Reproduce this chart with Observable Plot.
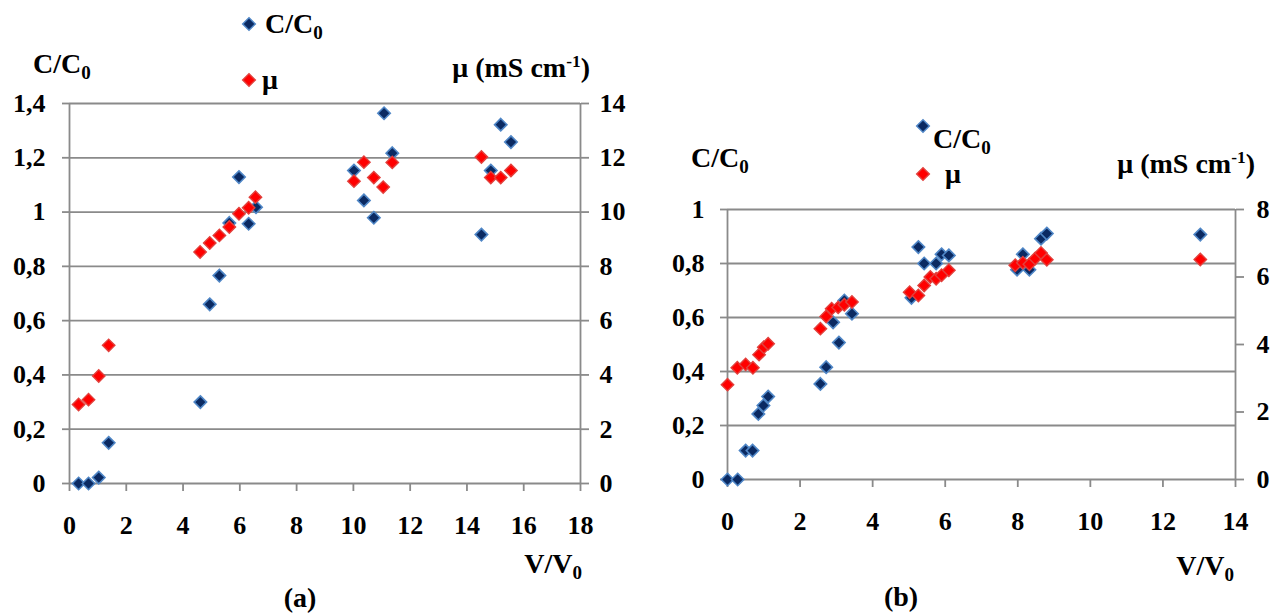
<!DOCTYPE html>
<html><head><meta charset="utf-8">
<script src="https://cdn.jsdelivr.net/npm/d3@7"></script>
<script src="https://cdn.jsdelivr.net/npm/@observablehq/plot@0.6"></script>
<style>
body{margin:0;background:#fff;}
#wrap{position:relative;width:1279px;height:615px;font-family:"Liberation Serif","Times New Roman",serif;font-weight:bold;color:#000;overflow:hidden;}
#wrap svg.pl{position:absolute;top:0;}
.lbl{position:absolute;font-size:28px;white-space:nowrap;line-height:1;z-index:2;}
.lbl sub{font-size:0.68em;vertical-align:-0.3em;line-height:0;}
.lbl sup{font-size:0.62em;vertical-align:0.55em;line-height:0;}
.leg{position:absolute;z-index:2;}
</style>
</head><body>
<div id="wrap"></div>
<script>
// ---------- Panel (a) data ----------
const aVc = [0.32,0.67,1.03,1.38,4.61,4.94,5.28,5.63,5.97,6.31,6.57,10.02,10.37,10.72,11.08,11.37,14.51,14.84,15.19,15.55];
const aC  = [0,0,0.022,0.15,0.30,0.66,0.766,0.96,1.129,0.957,1.018,1.153,1.043,0.979,1.364,1.217,0.917,1.153,1.322,1.258];
const aVm = [0.32,0.67,1.03,1.38,4.60,4.94,5.28,5.63,5.97,6.31,6.55,10.02,10.37,10.72,11.05,11.37,14.51,14.84,15.19,15.55];
const aMu = [2.91,3.09,3.96,5.09,8.53,8.86,9.14,9.45,9.94,10.16,10.55,11.14,11.84,11.27,10.92,11.83,12.03,11.27,11.27,11.53];
const aXTicks = [0,2,4,6,8,10,12,14,16,18];
const aCTicks = [0,0.2,0.4,0.6,0.8,1,1.2,1.4];
const aMuTicks = [0,2,4,6,8,10,12,14];

// ---------- Panel (b) data ----------
const bVc = [0,0.28,0.50,0.69,0.85,0.99,1.12, 2.56,2.72,2.91,3.07,3.22,3.43, 5.07,5.26,5.42,5.75,5.90,6.10, 7.98,8.14,8.32,8.64,8.80, 13.03];
const bC  = [0,0,0.107,0.107,0.243,0.274,0.307, 0.354,0.416,0.582,0.507,0.663,0.614, 0.673,0.861,0.80,0.80,0.834,0.830, 0.777,0.834,0.777,0.892,0.911, 0.907];
const bVm = [0,0.27,0.50,0.70,0.87,1.00,1.12, 2.56,2.72,2.87,3.05,3.22,3.43, 5.02,5.26,5.42,5.59,5.75,5.90,6.10, 7.93,8.14,8.32,8.48,8.64,8.80, 13.03];
const bMu = [2.81,3.31,3.41,3.31,3.70,3.92,4.02, 4.47,4.83,5.06,5.10,5.18,5.26, 5.55,5.45,5.75,6.00,5.95,6.05,6.20, 6.35,6.42,6.38,6.55,6.71,6.51, 6.52];
const bXTicks = [0,2,4,6,8,10,12,14];
const bCTicks = [0,0.2,0.4,0.6,0.8,1];
const bMuTicks = [0,2,4,6,8];

const GRID = "#8a8a8a";
const BLUE_FILL = "#0b2a62", BLUE_STROKE = "#4f86c6";
const RED_FILL = "#ff0000", RED_STROKE = "#e2403c";
const FONT = "'Liberation Serif','Times New Roman',serif";
const fmtC = d => String(+d.toFixed(1)).replace(".", ",");

function panel(cfg) {
  const blue = cfg.vc.map((v, i) => ({v, c: cfg.c[i]}));
  const red = cfg.vm.map((v, i) => ({v, m: cfg.mu[i] / cfg.ratio}));
  const xMax = cfg.xTicks[cfg.xTicks.length - 1];
  const yMax = cfg.cTicks[cfg.cTicks.length - 1];
  const txt = {fontFamily: FONT, fontSize: 26, fontWeight: "bold", fill: "#000"};
  const svg = Plot.plot({
    width: cfg.width, height: 615,
    marginLeft: cfg.ml, marginRight: cfg.mr, marginTop: cfg.mt, marginBottom: cfg.mb,
    x: {domain: [0, xMax]},
    y: {domain: [0, yMax]},
    style: {fontFamily: FONT, fontSize: "26px", fontWeight: "bold", color: "#000", background: "transparent", overflow: "visible"},
    marks: [
      Plot.gridY(cfg.cTicks, {stroke: GRID, strokeOpacity: 1, strokeWidth: 1.8}),
      Plot.ruleX([0, xMax], {y1: 0, y2: yMax, stroke: GRID, strokeWidth: 1.8}),
      Plot.axisY(cfg.cTicks, {anchor: "left", tickSize: 7, tickPadding: cfg.lpad, tickFormat: fmtC, stroke: GRID, strokeWidth: 1.8, label: null, ...txt}),
      Plot.axisY(cfg.muTicks.map(t => t / cfg.ratio), {anchor: "right", tickSize: 8, tickPadding: cfg.rpad, tickFormat: d => String(Math.round(d * cfg.ratio)), stroke: GRID, strokeWidth: 1.8, label: null, ...txt}),
      Plot.axisX(cfg.xTicks, {anchor: "bottom", tickSize: 8, tickPadding: cfg.xpad, stroke: GRID, strokeWidth: 1.8, label: null, ...txt}),
      Plot.dot(blue, {x: "v", y: "c", symbol: "diamond2", r: 5.6, fill: BLUE_FILL, stroke: BLUE_STROKE, strokeWidth: 1.6}),
      Plot.dot(red, {x: "v", y: "m", symbol: "diamond2", r: 5.6, fill: RED_FILL, stroke: RED_STROKE, strokeWidth: 1.4})
    ]
  });
  svg.classList.add("pl");
  svg.style.left = cfg.left + "px";
  return svg;
}

const wrap = document.getElementById("wrap");
wrap.appendChild(panel({vc: aVc, c: aC, vm: aVm, mu: aMu, ratio: 10, xTicks: aXTicks, cTicks: aCTicks, muTicks: aMuTicks,
  left: 0, width: 640, ml: 69, mr: 60, mt: 103, mb: 132, lpad: 17, rpad: 11, xpad: 24}));
wrap.appendChild(panel({vc: bVc, c: bC, vm: bVm, mu: bMu, ratio: 8, xTicks: bXTicks, cTicks: bCTicks, muTicks: bMuTicks,
  left: 640, width: 639, ml: 87, mr: 44, mt: 209, mb: 136, lpad: 16, rpad: 13, xpad: 24}));

function diamond(fill, stroke) {
  return `<svg width="16" height="16" viewBox="-8 -8 16 16"><polygon points="0,-6.3 6.3,0 0,6.3 -6.3,0" fill="${fill}" stroke="${stroke}" stroke-width="1.5"/></svg>`;
}
function add(html, style, cls = "lbl") {
  const d = document.createElement("div");
  d.className = cls;
  d.innerHTML = html;
  Object.assign(d.style, style);
  wrap.appendChild(d);
}
// Panel (a) texts
add("C/C<sub>0</sub>", {left: "33px", top: "50px"});
add(diamond(BLUE_FILL, BLUE_STROKE), {left: "241px", top: "16px"}, "leg");
add("C/C<sub>0</sub>", {left: "265px", top: "10px"});
add(diamond(RED_FILL, RED_STROKE), {left: "241px", top: "72px"}, "leg");
add("μ", {left: "262px", top: "66px"});
add("μ (mS cm<sup>-1</sup>)", {right: (1279 - 590) + "px", top: "54px"});
add("V/V<sub>0</sub>", {right: (1279 - 582) + "px", top: "550px"});
add("(a)", {left: "300px", top: "584px", transform: "translateX(-50%)"});
// Panel (b) texts
add("C/C<sub>0</sub>", {left: "691px", top: "144px"});
add(diamond(BLUE_FILL, BLUE_STROKE), {left: "915px", top: "118px"}, "leg");
add("C/C<sub>0</sub>", {left: "933px", top: "125px"});
add(diamond(RED_FILL, RED_STROKE), {left: "915px", top: "166px"}, "leg");
add("μ", {left: "945px", top: "160px"});
add("μ (mS cm<sup>-1</sup>)", {right: (1279 - 1255) + "px", top: "150px"});
add("V/V<sub>0</sub>", {right: (1279 - 1234) + "px", top: "552px"});
add("(b)", {left: "901px", top: "583px", transform: "translateX(-50%)"});
</script>
</body></html>
